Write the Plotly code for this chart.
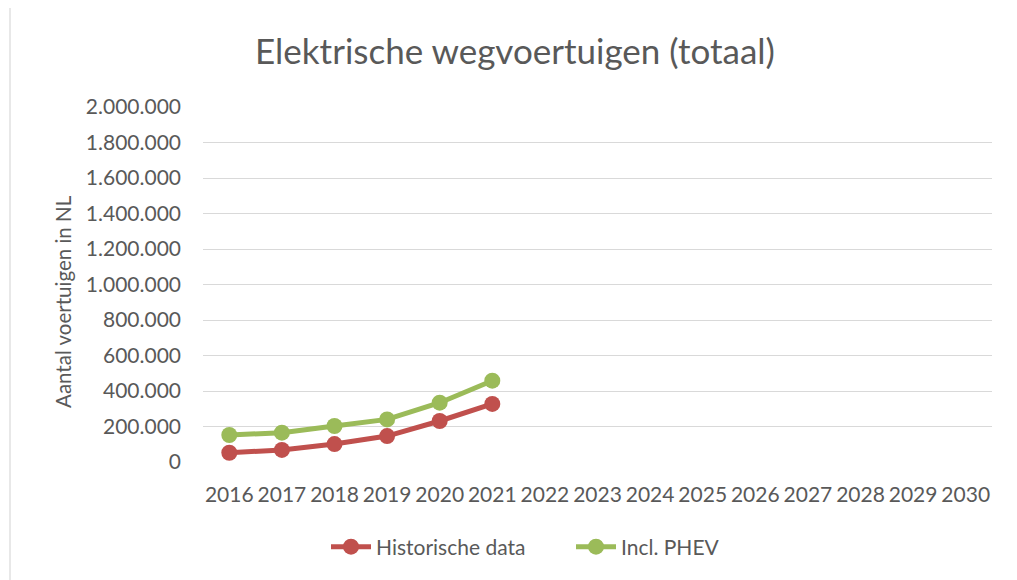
import plotly.graph_objects as go

years = [str(y) for y in range(2016, 2031)]
hist_years = ["2016", "2017", "2018", "2019", "2020", "2021"]
historische = [52000, 68000, 101000, 146000, 231000, 327000]
incl_phev = [152000, 165000, 203000, 240000, 334000, 458000]
y_ticks = [0, 200000, 400000, 600000, 800000, 1000000, 1200000, 1400000, 1600000, 1800000, 2000000]

FONT = "Lato"
GREY = "#595959"

# page body has an 8px margin; work in page pixels and convert
OFF = 8
W, H = 1017 - OFF, 580 - OFF
L, T = 203 - OFF, 107 - OFF
R = (1017) - 992
B = (580) - 462
pw, ph = W - L - R, H - T - B


def px(x):
    return (x - 203) / pw


def py(y):
    return (462 - y) / ph


fig = go.Figure()
fig.add_trace(go.Scatter(
    x=hist_years, y=historische, name="Historische data", mode="lines+markers",
    line=dict(color="#C0504D", width=5), marker=dict(size=16, color="#C0504D")))
fig.add_trace(go.Scatter(
    x=hist_years, y=incl_phev, name="Incl. PHEV", mode="lines+markers",
    line=dict(color="#9BBB59", width=5), marker=dict(size=16, color="#9BBB59")))

fig.add_shape(type="rect", xref="paper", yref="paper",
              x0=px(10), x1=px(1040), y0=py(600), y1=py(7),
              line=dict(color="#D9D9D9", width=1.2), fillcolor="rgba(0,0,0,0)", layer="below")

fig.add_annotation(text="Aantal voertuigen in NL", textangle=-90, xref="paper", yref="paper",
                   x=px(63), y=py(302), xanchor="center", yanchor="middle", showarrow=False,
                   font=dict(family=FONT, size=20.5, color=GREY))

fig.update_layout(
    width=W, height=H,
    margin=dict(l=L, r=R, t=T, b=B, autoexpand=False),
    paper_bgcolor="white", plot_bgcolor="white",
    separators=",.",
    font=dict(family=FONT, color=GREY, size=21),
    title=dict(text="Elektrische wegvoertuigen (totaal)", x=(515 - OFF) / W, xref="container",
               xanchor="center", y=1 - (52 - OFF) / H, yanchor="middle", yref="container",
               font=dict(family=FONT, size=35, color=GREY)),
    showlegend=True,
    legend=dict(orientation="h", x=px(326), xanchor="left", y=py(547), yanchor="middle",
                font=dict(family=FONT, size=21, color=GREY), itemwidth=40,
                entrywidth=190, entrywidthmode="pixels"),
    xaxis=dict(type="category", categoryorder="array", categoryarray=years,
               tickvals=years, ticktext=years, range=[-0.5, 14.5],
               showgrid=False, showline=False, zeroline=False,
               ticks="", ticklabelstandoff=18,
               tickfont=dict(family=FONT, size=21, color=GREY)),
    yaxis=dict(range=[0, 2000000], tickvals=y_ticks, tickformat=",d",
               showgrid=True, gridcolor="#D9D9D9", gridwidth=1.2,
               zeroline=False, showline=False, ticks="", ticklabelstandoff=21,
               tickfont=dict(family=FONT, size=21, color=GREY)),
)

fig.write_html("out.html")
